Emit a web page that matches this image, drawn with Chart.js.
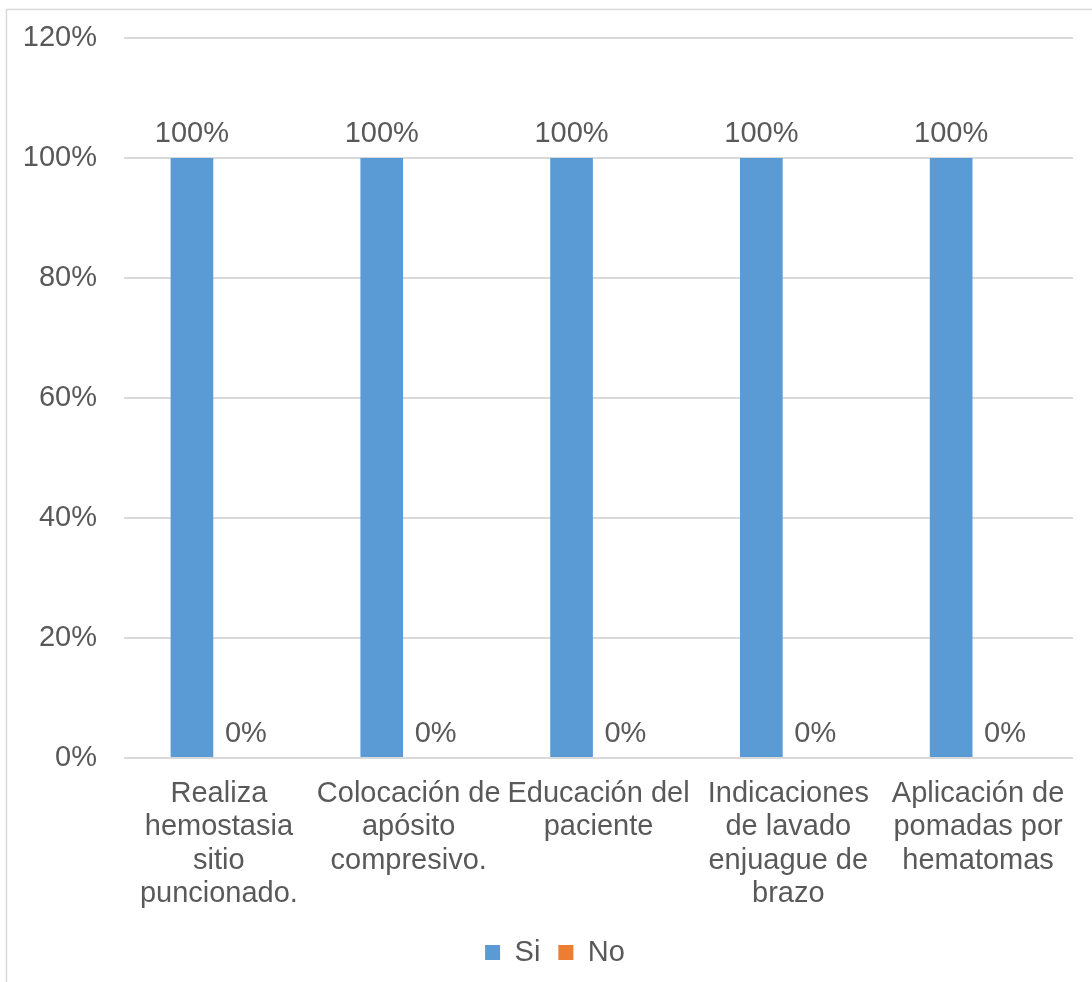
<!DOCTYPE html>
<html>
<head>
<meta charset="utf-8">
<script src="https://cdn.jsdelivr.net/npm/chart.js@4/dist/chart.umd.min.js"></script>
<style>
  html, body { margin: 0; padding: 0; background: #fff; }
  #wrap { width: 1092px; height: 982px; position: relative; }
</style>
</head>
<body>
<div id="wrap"><canvas id="c" width="1092" height="982"></canvas></div>
<script>
const categories = [
  ["Realiza", "hemostasia", "sitio", "puncionado."],
  ["Colocación de", "apósito", "compresivo."],
  ["Educación del", "paciente"],
  ["Indicaciones", "de lavado", "enjuague de", "brazo"],
  ["Aplicación de", "pomadas por", "hematomas"]
];
const seriesNames = ["Si", "No"];
const siValues = [100, 100, 100, 100, 100];
const noValues = [0, 0, 0, 0, 0];
const yTicks = [0, 20, 40, 60, 80, 100, 120];

const FONT = "'Liberation Sans', Arial, sans-serif";
const FS = 29;
const TEXT = "#595959";
const GRID = "#d9d9d9";

const frame = {
  id: 'frame',
  beforeDraw(chart) {
    const ctx = chart.ctx;
    ctx.save();
    ctx.strokeStyle = GRID;
    ctx.lineWidth = 1.5;
    ctx.beginPath();
    ctx.moveTo(6.5, 2000);
    ctx.lineTo(6.5, 9.5);
    ctx.lineTo(2000, 9.5);
    ctx.stroke();
    ctx.restore();
  }
};

const legendShift = {
  id: 'legendShift',
  afterLayout(chart) {
    if (chart.legend) chart.legend.left += 37;
  }
};

const valueLabels = {
  id: 'valueLabels',
  afterDatasetsDraw(chart) {
    const ctx = chart.ctx;
    ctx.save();
    ctx.font = FS + "px " + FONT;
    ctx.fillStyle = TEXT;
    ctx.textAlign = 'center';
    ctx.textBaseline = 'alphabetic';
    chart.data.datasets.forEach((ds, i) => {
      chart.getDatasetMeta(i).data.forEach((bar, j) => {
        ctx.fillText(ds.data[j] + '%', bar.x, bar.y - 16);
      });
    });
    ctx.restore();
  }
};

new Chart(document.getElementById('c'), {
  type: 'bar',
  data: {
    labels: categories,
    datasets: [
      { label: seriesNames[0], data: siValues, backgroundColor: '#5B9BD5', categoryPercentage: 0.568, barPercentage: 0.792 },
      { label: seriesNames[1], data: noValues, backgroundColor: '#ED7D31', categoryPercentage: 0.568, barPercentage: 0.792 }
    ]
  },
  options: {
    responsive: false,
    animation: false,
    layout: { padding: { top: 38, right: 19, left: 0, bottom: 5 } },
    plugins: {
      legend: {
        position: 'bottom',
        labels: {
          boxWidth: 15, boxHeight: 15, padding: 18,
          color: TEXT,
          font: { family: FONT, size: FS, lineHeight: 1.0 }
        }
      },
      tooltip: { enabled: false }
    },
    scales: {
      x: {
        grid: { display: false },
        border: { display: false },
        ticks: {
          color: TEXT, maxRotation: 0, autoSkip: false, padding: 11,
          font: { family: FONT, size: FS, lineHeight: 1.155 }
        },
        afterFit(s) { s.height = 162; }
      },
      y: {
        min: 0, max: 120,
        afterBuildTicks(s) { s.ticks = yTicks.map(v => ({ value: v })); },
        grid: { color: GRID, lineWidth: 2, drawTicks: false },
        border: { display: false },
        ticks: {
          color: TEXT, padding: 27,
          font: { family: FONT, size: FS },
          callback: v => v + '%'
        },
        afterFit(s) { s.width = 124; s.paddingTop = 0; s.paddingBottom = 0; }
      }
    }
  },
  plugins: [frame, legendShift, valueLabels]
});
</script>
</body>
</html>
